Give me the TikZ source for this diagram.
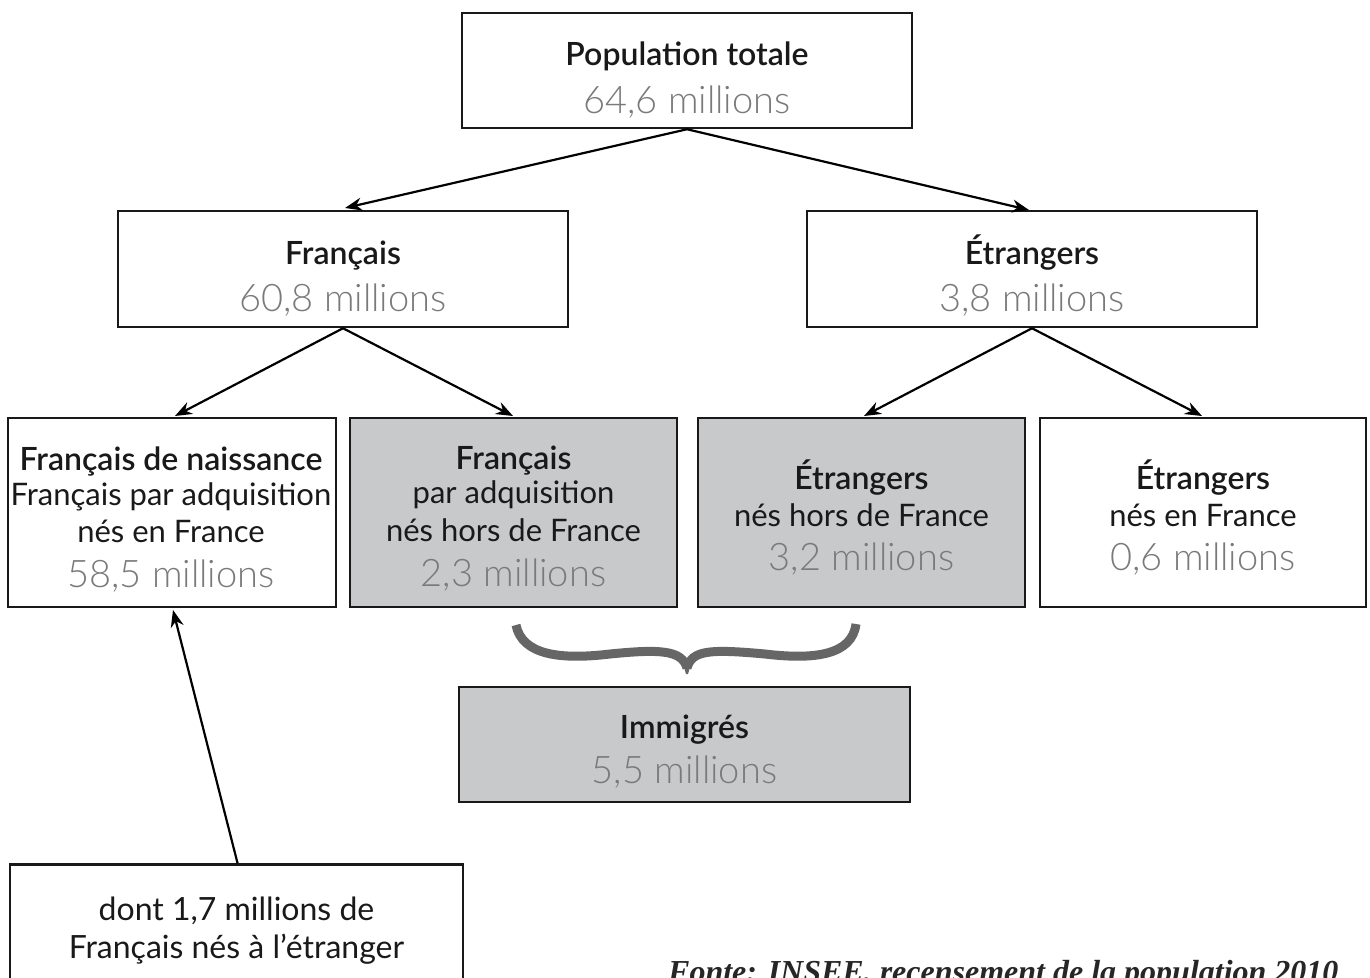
\documentclass[tikz,border=0pt]{standalone}
\usepackage{fontspec}
\setmainfont{Lato}
\newfontfamily\lightf{Lato Light}
\newfontfamily\semif{Lato Semibold}
\newfontfamily\srcf{Liberation Serif}
\usetikzlibrary{arrows.meta}
\definecolor{boxgray}{HTML}{C8C9CB}
\definecolor{numgray}{HTML}{7A7A7A}
\definecolor{bracegray}{HTML}{666666}
\tikzset{
  box/.style={draw=black!90, line width=2.5pt, inner sep=0pt},
  graybox/.style={box, fill=boxgray},
  arr/.style={line width=2.2pt, -{Stealth[length=17pt,width=13pt]}},
  hd/.style={anchor=base, inner sep=0pt, text=black!90, font=\semif\fontsize{32}{38}\selectfont},
  nm/.style={anchor=base, inner sep=0pt, text=numgray, font=\lightf\fontsize{38}{44}\selectfont},
  tx/.style={anchor=base, inner sep=0pt, text=black!90, font=\fontsize{31}{37}\selectfont},
}
\begin{document}
\begin{tikzpicture}[x=1pt,y=-1pt]
\useasboundingbox (0,0) rectangle (1370,977);
% top
\node[box, minimum width=450pt, minimum height=115pt] (pop) at (687,70.5) {};
\node[hd] (popH) at (687,65) {Population totale};
\node[nm] (popN) at (687,113) {64,6 millions};
\node[box, minimum width=450pt, minimum height=116pt] (fr) at (343,269) {};
\node[hd] (frH) at (343,264) {Français};
\node[nm] (frN) at (343,311) {60,8 millions};
\node[box, minimum width=450pt, minimum height=116pt] (et) at (1032,269) {};
\node[hd] (etH) at (1032,264) {Étrangers};
\node[nm] (etN) at (1032,311) {3,8 millions};
% third row
\node[box, minimum width=328pt, minimum height=189pt] (frn) at (172,512.5) {};
\node[hd] (frnH) at (171,470) {Français de naissance};
\node[tx] (frn1) at (171,505) {Français par adquisition};
\node[tx] (frn2) at (171,542) {nés en France};
\node[nm] (frnN) at (171,587) {58,5 millions};
\node[graybox, minimum width=327pt, minimum height=189pt] (fra) at (513.5,512.5) {};
\node[hd] (fraH) at (513.5,469) {Français};
\node[tx] (fra1) at (513.5,503) {par adquisition};
\node[tx] (fra2) at (513.5,541) {nés hors de France};
\node[nm] (fraN) at (513.5,586) {2,3 millions};
\node[graybox, minimum width=327pt, minimum height=189pt] (eth) at (861.5,512.5) {};
\node[hd] (ethH) at (861.5,489) {Étrangers};
\node[tx] (eth1) at (861.5,526) {nés hors de France};
\node[nm] (ethN) at (861.5,570) {3,2 millions};
\node[box, minimum width=326pt, minimum height=189pt] (etf) at (1203,512.5) {};
\node[hd] (etfH) at (1203,489) {Étrangers};
\node[tx] (etf1) at (1203,526) {nés en France};
\node[nm] (etfN) at (1203,570) {0,6 millions};
% immigres
\node[graybox, minimum width=451pt, minimum height=115pt] (imm) at (684.5,744.5) {};
\node[hd] (immH) at (684.5,738) {Immigrés};
\node[nm] (immN) at (684.5,783) {5,5 millions};
% dont box
\node[box, minimum width=453pt, minimum height=180pt, anchor=north] (dont) at (236.5,863) {};
\node[tx, font=\fontsize{32}{38}\selectfont] (dont1) at (236.5,920) {dont 1,7 millions de};
\node[tx, font=\fontsize{32}{38}\selectfont] (dont2) at (236.5,958) {Français nés à l’étranger};
% arrows
\draw[arr] (pop.south) -- (345,208) coordinate (a1);
\draw[arr] (pop.south) -- (1029,210) coordinate (a2);
\draw[arr] (fr.south) -- (175,416) coordinate (a3);
\draw[arr] (fr.south) -- (513,416) coordinate (a4);
\draw[arr] (et.south) -- (864,416) coordinate (a5);
\draw[arr] (et.south) -- (1202,416) coordinate (a6);
\draw[arr] (dont.north) ++(1,0) coordinate (d0) -- (173,610) coordinate (a7);
% brace
\draw[bracegray, line width=9pt]
  (516,625) .. controls (522,655) and (560,660) .. (610,654)
  .. controls (660,649) and (682,650) .. (687,668);
\draw[bracegray, line width=9pt]
  (856,624) .. controls (852,655) and (815,660) .. (765,654)
  .. controls (710,649) and (692,650) .. (687,668);
\fill[bracegray] (683,664) -- (691,664) -- (688,674) -- (686,674) -- cycle;
% source
\node[anchor=base west, inner sep=0pt, font=\srcf\bfseries\itshape\fontsize{32}{38}\selectfont, text=black!85] (src) at (668,982)
  {Fonte: INSEE, recensement de la population 2010};
\end{tikzpicture}
\end{document}
